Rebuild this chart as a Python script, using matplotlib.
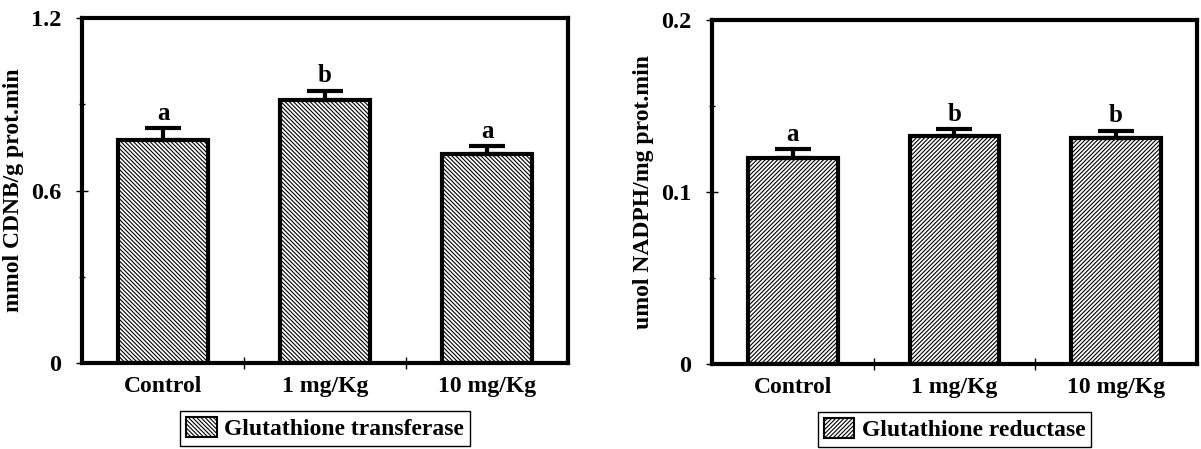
import matplotlib
matplotlib.use("Agg")
import matplotlib.pyplot as plt
from matplotlib.patches import Patch

plt.rcParams['font.family'] = ['Liberation Serif', 'DejaVu Serif']
plt.rcParams['font.weight'] = 'bold'
plt.rcParams['hatch.linewidth'] = 0.8

groups = ['Control', '1 mg/Kg', '10 mg/Kg']

# Glutathione transferase (mmol CDNB/g prot.min)
gst_mean = [0.776, 0.915, 0.727]
gst_err = [0.041, 0.032, 0.028]
gst_letters = ['a', 'b', 'a']

# Glutathione reductase (umol NADPH/mg prot.min)
gr_mean = [0.1196, 0.1326, 0.1312]
gr_err = [0.0052, 0.0038, 0.0044]
gr_letters = ['a', 'b', 'b']

fig = plt.figure(figsize=(12.01, 4.49), dpi=100)
ax1 = fig.add_axes([0.0683, 0.1915, 0.4047, 0.7684])
ax2 = fig.add_axes([0.5928, 0.1893, 0.4038, 0.766])


def panel(ax, means, errs, letters, hatch, ymax, yticks, minor, ylabel, legend_label):
    x = range(len(groups))
    ax.bar(x, means, width=0.555, color='white', edgecolor='black',
           linewidth=3, hatch=hatch, zorder=2)
    ax.errorbar(x, means, yerr=[[0] * len(errs), errs], fmt='none', ecolor='black',
                elinewidth=3, capsize=13, capthick=3, zorder=3)
    for xi, m, e, lab in zip(x, means, errs, letters):
        ax.annotate(lab, (xi, m + e), xytext=(0, 6), textcoords='offset points',
                    ha='center', va='baseline', fontsize=18, fontweight='bold')
    ax.set_xlim(-0.5, len(groups) - 0.5)
    ax.set_ylim(0, ymax)
    ax.set_yticks(yticks)
    ax.set_yticklabels([str(t) if t != 0 else '0' for t in yticks])
    ax.set_yticks(minor, minor=True)
    ax.set_xticks([0.5, 1.5])
    ax.set_xticklabels([])
    ax.set_xticks(list(x), minor=True)
    ax.set_xticklabels(groups, minor=True)
    ax.tick_params(axis='x', which='minor', length=0, pad=9, labelsize=17)
    ax.tick_params(axis='x', which='major', direction='inout', length=8, width=1)
    ax.tick_params(axis='y', which='major', direction='inout', length=8, width=1,
                   pad=11, labelsize=17.5)
    ax.tick_params(axis='y', which='minor', direction='inout', length=5, width=1)
    for s in ax.spines.values():
        s.set_linewidth(3)
    ax.set_ylabel(ylabel, fontsize=17, fontweight='bold', labelpad=5)
    handle = Patch(facecolor='white', edgecolor='black', hatch=hatch, linewidth=1.5)
    ax.legend([handle], [legend_label], loc='upper center', bbox_to_anchor=(0.5, -0.14),
              frameon=True, fancybox=False, edgecolor='black', framealpha=1,
              prop={'size': 17, 'weight': 'bold'}, handlelength=1.3, handleheight=0.9,
              handletextpad=0.3, borderpad=0.25, borderaxespad=0)


panel(ax1, gst_mean, gst_err, gst_letters, '\\' * 8, 1.2, [0, 0.6, 1.2], [0.3, 0.9],
      'mmol CDNB/g prot.min', 'Glutathione transferase')
panel(ax2, gr_mean, gr_err, gr_letters, '/' * 8, 0.2, [0, 0.1, 0.2], [0.05, 0.15],
      'umol NADPH/mg prot.min', 'Glutathione reductase')

fig.savefig('out.png', dpi=100)
